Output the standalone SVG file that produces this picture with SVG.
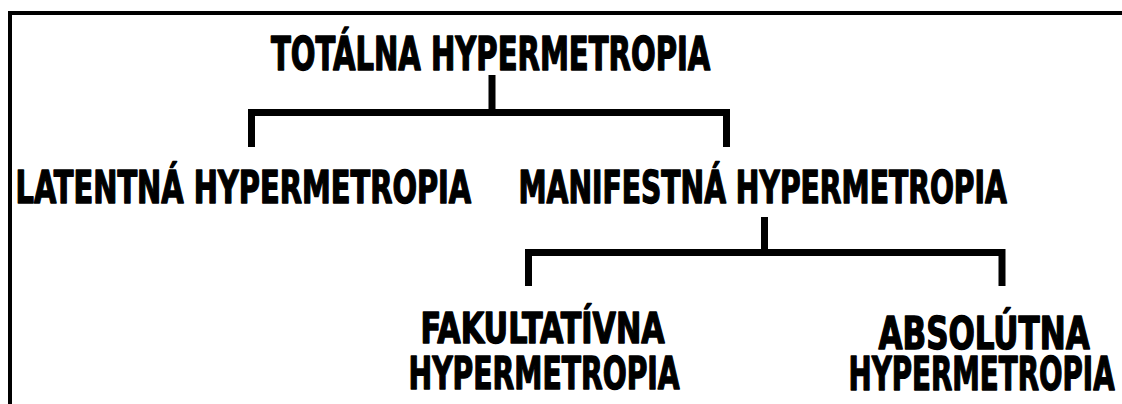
<svg xmlns="http://www.w3.org/2000/svg" width="1122" height="404" viewBox="0 0 1122 404">
<style>
.t{font-family:"DejaVu Sans Condensed","DejaVu Sans","Liberation Sans",sans-serif;font-weight:bold;fill:#000;stroke:#000;stroke-width:1.4;stroke-linejoin:round}
.c{fill:none;stroke:#000;stroke-width:7;stroke-linecap:butt;stroke-linejoin:miter}
</style>
<rect width="1122" height="404" fill="#fff"/>
<path d="M10,404 V13 H1122" fill="none" stroke="#000" stroke-width="4"/>
<g id="connectors">
<path class="c" d="M492,75 V112.5 M251.5,147 V112.5 H726.5 V147"/>
<path class="c" d="M764.5,217 V252.5 M528.5,286 V252.5 H1002 V286"/>
</g>
<g id="totalna"><text class="t" transform="translate(271,69.5) scale(0.693,1)" font-size="46.5" textLength="634" lengthAdjust="spacingAndGlyphs">TOTÁLNA HYPERMETROPIA</text></g>
<g id="latentna"><text class="t" transform="translate(15.5,202.5) scale(0.728,1)" font-size="44" textLength="626" lengthAdjust="spacingAndGlyphs">LATENTNÁ HYPERMETROPIA</text></g>
<g id="manifestna"><text class="t" transform="translate(518.5,202.5) scale(0.715,1)" font-size="44" textLength="683" lengthAdjust="spacingAndGlyphs">MANIFESTNÁ HYPERMETROPIA</text></g>
<g id="fakultativna">
<text class="t" transform="translate(420.5,343.3) scale(0.738,1)" font-size="43" textLength="331" lengthAdjust="spacingAndGlyphs">FAKULTATÍVNA</text>
<text class="t" transform="translate(408.5,389) scale(0.699,1)" font-size="45" textLength="388" lengthAdjust="spacingAndGlyphs">HYPERMETROPIA</text>
</g>
<g id="absolutna">
<text class="t" transform="translate(878.5,349) scale(0.782,1)" font-size="44" textLength="270" lengthAdjust="spacingAndGlyphs">ABSOLÚTNA</text>
<text class="t" transform="translate(848.5,390) scale(0.657,1)" font-size="47" textLength="405" lengthAdjust="spacingAndGlyphs">HYPERMETROPIA</text>
</g>
</svg>
